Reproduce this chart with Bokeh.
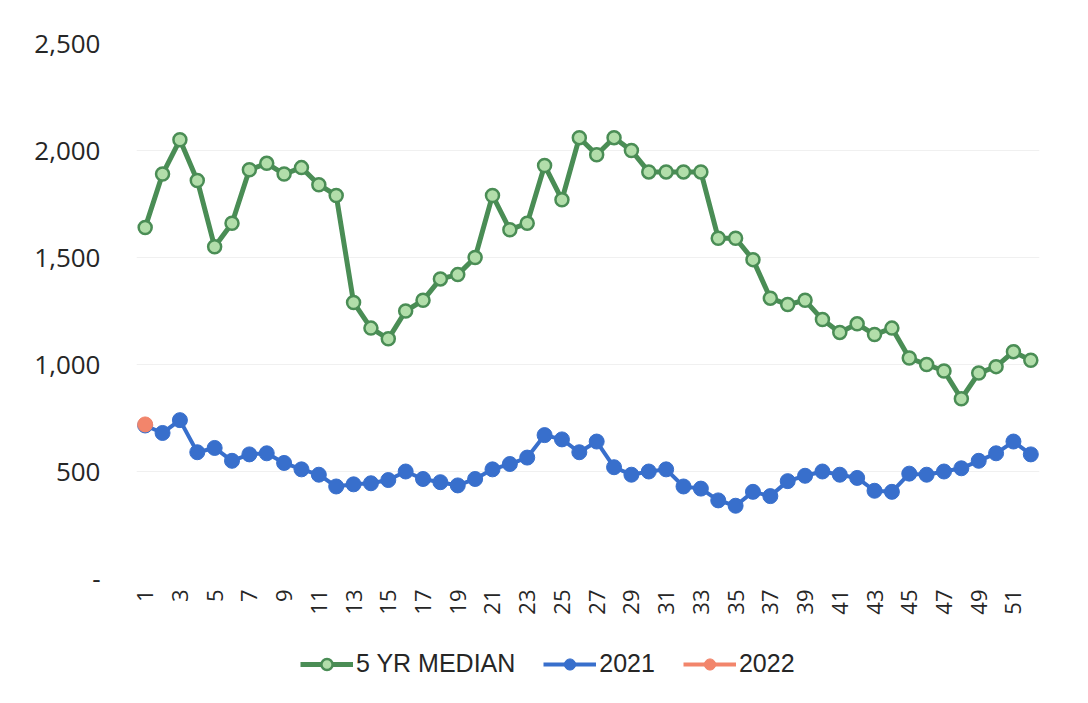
from bokeh.plotting import figure
from bokeh.models import ColumnDataSource, Legend, LegendItem, CustomJSTickFormatter, FixedTicker, Range1d
from bokeh.layouts import column
from bokeh.embed import file_html
from bokeh.resources import INLINE
import math

weeks = list(range(1, 53))
median_5yr = [1640, 1890, 2050, 1860, 1550, 1660, 1910, 1940, 1890, 1920,
              1840, 1790, 1290, 1170, 1120, 1250, 1300, 1400, 1420, 1500,
              1790, 1630, 1660, 1930, 1770, 2060, 1980, 2060, 2000, 1900,
              1900, 1900, 1900, 1590, 1590, 1490, 1310, 1280, 1300, 1210,
              1150, 1190, 1140, 1170, 1030, 1000, 970, 840, 960, 990,
              1060, 1020]
y2021 = [715, 680, 740, 590, 610, 550, 580, 585, 540, 510,
         485, 430, 440, 445, 460, 500, 465, 450, 435, 465,
         510, 535, 565, 670, 650, 590, 640, 520, 485, 500,
         510, 430, 420, 365, 340, 405, 385, 455, 480, 500,
         485, 470, 410, 405, 490, 485, 500, 515, 550, 585,
         640, 580]
weeks_2022 = [1]
y2022 = [720]
y_ticks = [0, 500, 1000, 1500, 2000, 2500]
x_ticks = list(range(1, 53, 2))
series_names = ["5 YR MEDIAN", "2021", "2022"]

GREEN = "#4a8d55"
GREEN_FILL = "#b2deaa"
BLUE = "#386fcc"
ORANGE = "#f2856b"
TXT = "#262626"

p = figure(width=1072, height=630, output_backend="svg", toolbar_location=None,
           x_range=Range1d(0.5, 52.5), y_range=Range1d(0, 2500),
           min_border_left=136, min_border_top=43, min_border_right=33, min_border_bottom=52)
p.outline_line_color = None
p.background_fill_color = "white"

src_m = ColumnDataSource(dict(x=weeks, y=median_5yr))
src_a = ColumnDataSource(dict(x=weeks, y=y2021))
src_b = ColumnDataSource(dict(x=weeks_2022, y=y2022))

def style_m(fig, src):
    l = fig.line("x", "y", source=src, line_color=GREEN, line_width=5)
    s = fig.scatter("x", "y", source=src, size=13, fill_color=GREEN_FILL, line_color=GREEN, line_width=2.5)
    return [l, s]

def style_a(fig, src):
    l = fig.line("x", "y", source=src, line_color=BLUE, line_width=4)
    s = fig.scatter("x", "y", source=src, size=15, fill_color=BLUE, line_color=BLUE)
    return [l, s]

def style_b(fig, src):
    l = fig.line("x", "y", source=src, line_color=ORANGE, line_width=4)
    s = fig.scatter("x", "y", source=src, size=15, fill_color=ORANGE, line_color=ORANGE)
    return [l, s]

style_m(p, src_m)
style_a(p, src_a)
style_b(p, src_b)

p.xgrid.grid_line_color = None
p.ygrid.grid_line_color = "#f0f0f0"
p.ygrid.ticker = FixedTicker(ticks=y_ticks)

p.yaxis.ticker = FixedTicker(ticks=y_ticks)
p.yaxis.formatter = CustomJSTickFormatter(code="return tick == 0 ? '-' : tick.toLocaleString('en-US');")
p.yaxis.axis_line_color = None
p.yaxis.major_tick_line_color = None
p.yaxis.minor_tick_line_color = None
p.yaxis.major_label_text_font = "Open Sans"
p.yaxis.major_label_text_font_size = "26px"
p.yaxis.major_label_text_color = TXT
p.yaxis.major_label_standoff = 30

p.xaxis.ticker = FixedTicker(ticks=x_ticks)
p.xaxis.axis_line_color = None
p.xaxis.major_tick_line_color = None
p.xaxis.minor_tick_line_color = None
p.xaxis.major_label_orientation = math.pi / 2
p.xaxis.major_label_text_font = "Open Sans"
p.xaxis.major_label_text_font_size = "22px"
p.xaxis.major_label_text_color = TXT
p.xaxis.major_label_standoff = 5

# legend strip below the chart (dummy renderers sit outside the visible range)
q = figure(width=1072, height=60, output_backend="svg", toolbar_location=None,
           x_range=Range1d(0, 1), y_range=Range1d(0, 1),
           min_border_left=136, min_border_right=33, min_border_top=0, min_border_bottom=0)
q.axis.visible = False
q.grid.visible = False
q.outline_line_color = None
off = dict(x=[-5, -4], y=[-5, -5])
rm = style_m(q, ColumnDataSource(dict(off)))
ra = style_a(q, ColumnDataSource(dict(off)))
rb = style_b(q, ColumnDataSource(dict(off)))

legend = Legend(items=[LegendItem(label=series_names[0], renderers=rm),
                       LegendItem(label=series_names[1], renderers=ra),
                       LegendItem(label=series_names[2], renderers=rb)],
                orientation="horizontal", location=(164, 12),
                label_text_font="Liberation Sans", label_text_font_size="25px",
                label_text_color=TXT, glyph_width=53, glyph_height=28,
                spacing=28, label_standoff=3, border_line_color=None,
                background_fill_alpha=0, margin=0, padding=0)
q.add_layout(legend, "center")

open("out.html", "w").write(file_html(column(p, q), INLINE))
